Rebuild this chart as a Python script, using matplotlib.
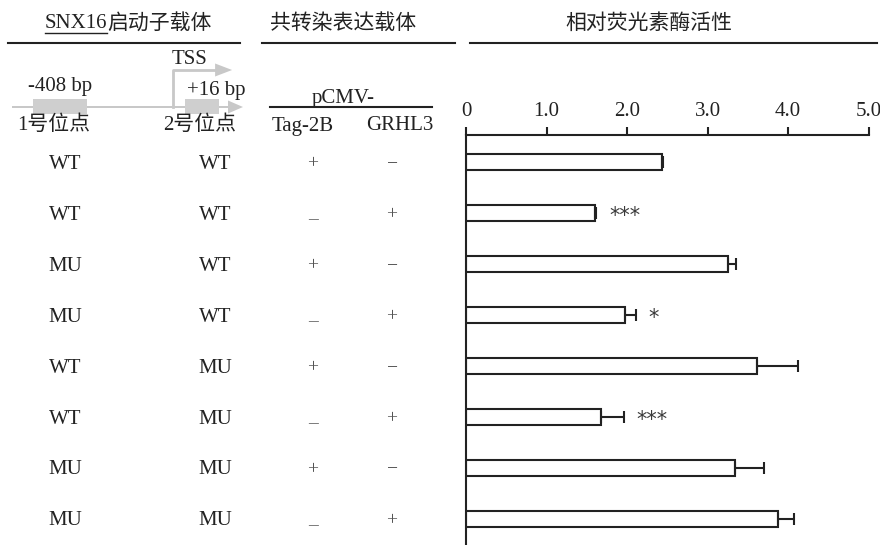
import matplotlib
matplotlib.use("Agg")
import matplotlib.pyplot as plt
import matplotlib.transforms as mtransforms
from matplotlib.patches import Rectangle, FancyArrow

plt.rcParams['font.family'] = ['Liberation Serif', 'Noto Sans CJK SC']
plt.rcParams['font.size'] = 15

# data
site1 = ['WT', 'WT', 'MU', 'MU', 'WT', 'WT', 'MU', 'MU']
site2 = ['WT', 'WT', 'WT', 'WT', 'MU', 'MU', 'MU', 'MU']
tag2b = ['+', '–', '+', '–', '+', '–', '+', '–']
grhl3 = ['−', '+', '−', '+', '−', '+', '−', '+']
activity = [2.43, 1.60, 3.26, 1.97, 3.62, 1.68, 3.34, 3.88]
errors = [0.02, 0.02, 0.10, 0.145, 0.50, 0.28, 0.36, 0.19]
stars = ['', '***', '', '*', '', '***', '', '']
ticks = [0, 1, 2, 3, 4, 5]
tick_labels = ['0', '1.0', '2.0', '3.0', '4.0', '5.0']

W, H = 880, 545
ink = '#222222'
gray = '#c8c8c8'

fig = plt.figure(figsize=(W / 100, H / 100), dpi=100)

# overlay in pixel coords for the left-hand table and headers
ov = fig.add_axes([0, 0, 1, 1])
ov.set_xlim(0, W)
ov.set_ylim(H, 0)
ov.axis('off')

# bar axes
x0, x1, ytop = 466, 868.5, 135
ax = fig.add_axes([x0 / W, 0, (x1 - x0) / W, (H - ytop) / H])
rows = list(range(len(activity)))
ax.barh(rows, activity, height=0.33, color='white', edgecolor=ink, linewidth=1.5)
ax.errorbar(activity, rows, xerr=[[0] * len(errors), errors], fmt='none',
            ecolor=ink, elinewidth=1.5, capsize=4, capthick=1.5)
for r, v, e, s in zip(rows, activity, errors, stars):
    if s:
        ax.annotate(s, (v + e, r), xytext=(9, -2), textcoords='offset points',
                    ha='left', va='center', fontsize=15, color='#3a3a3a',
                    family='DejaVu Sans')
ax.set_xlim(0, 5)
ax.set_ylim(7.51, -0.53)
ax.set_xticks(ticks)
ax.set_xticklabels(tick_labels)
ax.xaxis.tick_top()
ax.tick_params(axis='x', length=6, width=1.5, pad=4, colors=ink, labelsize=15)
ax.set_yticks([])
for sp in ['right', 'bottom']:
    ax.spines[sp].set_visible(False)
for sp in ['left', 'top']:
    ax.spines[sp].set_linewidth(1.5)
    ax.spines[sp].set_color(ink)
ax.patch.set_alpha(0)

# table rows aligned to bar rows (shifted ~2 px down to sit like the reference)
tr = mtransforms.blended_transform_factory(ov.transData, ax.transData)
tr = tr + mtransforms.ScaledTranslation(0, -2 / 100, fig.dpi_scale_trans)
for r in rows:
    ov.text(65, r, site1[r], transform=tr, ha='center', va='center', color=ink)
    ov.text(215, r, site2[r], transform=tr, ha='center', va='center', color=ink)
    dy = 0.1 if tag2b[r] == '–' else 0
    ov.text(313, r + dy, tag2b[r], transform=tr, ha='center', va='center',
            color='#555555', fontsize=14)
    ov.text(392, r, grhl3[r], transform=tr, ha='center', va='center',
            color='#555555', fontsize=14)

# headers
ov.text(107, 24, 'SNX16', ha='right', va='center', color=ink)
ov.text(107, 24, '启动子载体', ha='left', va='center', color=ink)
ov.plot([45, 107], [33, 33], color=ink, lw=1)
ov.plot([8, 240], [42.5, 42.5], color=ink, lw=1.5)
ov.text(343, 24, '共转染表达载体', ha='center', va='center', color=ink)
ov.plot([262, 455], [42.5, 42.5], color=ink, lw=1.5)
ov.text(649, 24, '相对荧光素酶活性', ha='center', va='center', color=ink)
ov.plot([470, 877], [42.5, 42.5], color=ink, lw=1.5)

# promoter diagram
ov.add_patch(FancyArrow(12, 107, 216, 0, width=2, head_width=13, head_length=15,
                        length_includes_head=False, color=gray, lw=0))
ov.plot([172.7, 172.7, 216], [107, 70, 70], color=gray, lw=2)
ov.add_patch(FancyArrow(215, 70, 0.1, 0, width=2, head_width=13, head_length=17,
                        length_includes_head=False, color=gray, lw=0))
ov.add_patch(Rectangle((33, 99), 54, 15, color='#cfcfcf', lw=0))
ov.add_patch(Rectangle((185, 99), 34, 15, color='#cfcfcf', lw=0))
ov.text(190, 59, 'TSS', ha='center', va='center', color=ink)
ov.text(60, 86, '-408 bp', ha='center', va='center', color=ink)
ov.text(216, 90, '+16 bp', ha='center', va='center', color=ink)
ov.text(54, 125, '1号位点', ha='center', va='center', color=ink)
ov.text(200, 125, '2号位点', ha='center', va='center', color=ink)
ov.text(343, 99, 'pCMV-', ha='center', va='center', color=ink)
ov.plot([270, 432], [107, 107], color=ink, lw=1.5)
ov.text(303, 126, 'Tag-2B', ha='center', va='center', color=ink)
ov.text(400, 126, 'GRHL3', ha='center', va='center', color=ink)

fig.savefig('out.png', dpi=100)
